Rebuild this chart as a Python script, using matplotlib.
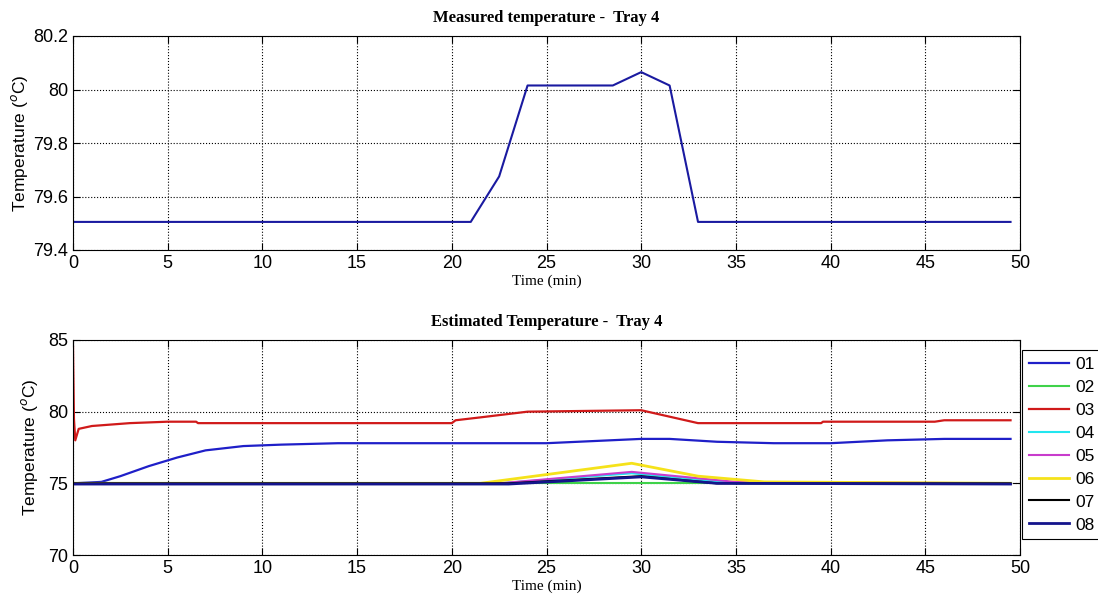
import numpy as np
from matplotlib import pyplot as plt

plt.rcParams.update({'font.family': ['Liberation Sans', 'DejaVu Sans'], 'font.size': 12})

# measured temperature, tray 4
t_meas = [0, 21, 22.5, 24, 28.5, 30, 31.5, 33, 49.5]
T_meas = [79.505, 79.505, 79.675, 80.015, 80.015, 80.065, 80.015, 79.505, 79.505]

# estimated temperatures
t_03 = [0, 0.05, 0.12, 0.3, 1, 3, 5, 6.5, 6.6, 20, 20.2, 21.5, 24, 27, 30, 33, 39.5, 39.6, 45.5, 46, 49.5]
T_03 = [84.5, 79.5, 78.0, 78.8, 79.0, 79.2, 79.3, 79.3, 79.2, 79.2, 79.4, 79.6, 80.0, 80.05, 80.1, 79.2, 79.2, 79.3, 79.3, 79.4, 79.4]

t_01 = [0, 1.5, 2.5, 4, 5.5, 7, 9, 11, 14, 25, 30, 31.5, 34, 37, 40, 43, 46, 49.5]
T_01 = [75.0, 75.1, 75.5, 76.2, 76.8, 77.3, 77.6, 77.7, 77.8, 77.8, 78.1, 78.1, 77.9, 77.8, 77.8, 78.0, 78.1, 78.1]

t_02 = [0, 49.5]
T_02 = [75.05, 75.05]

t_04 = [0, 22.5, 29.5, 35, 49.5]
T_04 = [75.0, 75.0, 75.7, 75.0, 75.0]

t_05 = [0, 22.5, 29.5, 35, 49.5]
T_05 = [75.0, 75.0, 75.8, 75.1, 75.0]

t_06 = [0, 21.5, 29.5, 33, 36.5, 49.5]
T_06 = [75.0, 75.0, 76.4, 75.5, 75.1, 75.0]

t_07 = [0, 23, 30, 34, 49.5]
T_07 = [75.0, 75.0, 75.5, 75.0, 75.0]

t_08 = [0, 23, 30, 34, 49.5]
T_08 = [74.95, 74.95, 75.45, 75.0, 74.95]

series = [('01', t_01, T_01, '#1f1fc8', 1.6),
          ('02', t_02, T_02, '#3fd24a', 1.5),
          ('03', t_03, T_03, '#d01a1a', 1.6),
          ('04', t_04, T_04, '#22e6ef', 1.5),
          ('05', t_05, T_05, '#c83ccc', 1.5),
          ('06', t_06, T_06, '#f5e21a', 2.0),
          ('07', t_07, T_07, 'black', 1.5),
          ('08', t_08, T_08, '#14148c', 2.0)]

fig = plt.figure(figsize=(10.98, 6.07), dpi=100)
ax1 = fig.add_axes([73 / 1098, 1 - 250 / 607, 947 / 1098, 214 / 607])
ax2 = fig.add_axes([73 / 1098, 1 - 555 / 607, 947 / 1098, 215 / 607])

title_font = {'family': 'Liberation Serif', 'weight': 'bold', 'size': 12}
xlab_font = {'family': 'Liberation Serif', 'size': 11}

ax1.plot(t_meas, T_meas, color='#1a1aa0', lw=1.5)
ax1.set_xlim(0, 50)
ax1.set_ylim(79.4, 80.2)
ax1.set_yticks([79.4, 79.6, 79.8, 80.0, 80.2])
ax1.set_yticklabels(['79.4', '79.6', '79.8', '80', '80.2'])
ax1.set_title('Measured temperature -  Tray 4', fontdict=title_font, pad=10)
ax1.set_xlabel('Time (min)', fontdict=xlab_font, labelpad=2)
ax1.set_ylabel('Temperature ($^o$C)', fontsize=12.5, labelpad=2)

for name, t, T, c, lw in series:
    ax2.plot(t, T, color=c, lw=lw, label=name)
ax2.set_xlim(0, 50)
ax2.set_ylim(70, 85)
ax2.set_yticks([70, 75, 80, 85])
ax2.set_title('Estimated Temperature -  Tray 4', fontdict=title_font, pad=10)
ax2.set_xlabel('Time (min)', fontdict=xlab_font, labelpad=2)
ax2.set_ylabel('Temperature ($^o$C)', fontsize=12.5, labelpad=6)
leg = ax2.legend(loc='upper left', bbox_to_anchor=(1.002, 0.955), fancybox=False,
                 edgecolor='black', fontsize=12.5, handlelength=2.3, labelspacing=0.45,
                 handletextpad=0.4, borderaxespad=0, framealpha=1)
leg.get_frame().set_linewidth(0.8)

for ax in (ax1, ax2):
    ax.set_xticks(range(0, 51, 5))
    ax.grid(True, ls=':', color='black', lw=0.8)
    ax.tick_params(direction='in', length=5, labelsize=13, top=True, right=True)

plt.savefig('out.png', dpi=100)
